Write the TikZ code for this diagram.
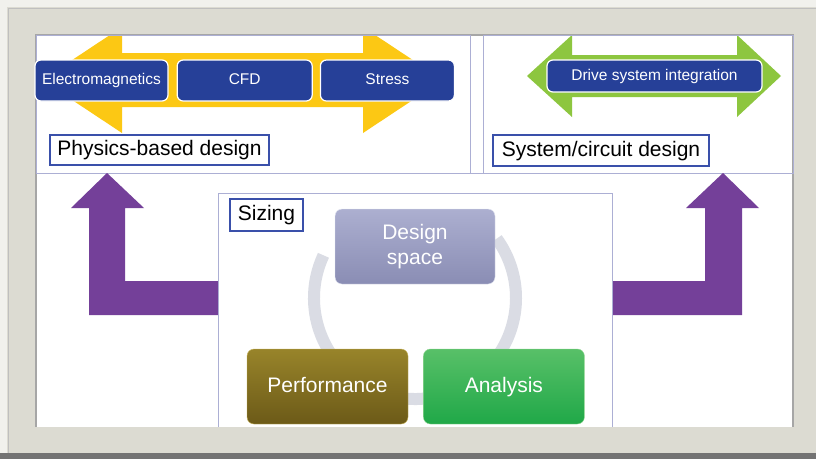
\documentclass[tikz,border=0pt]{standalone}
\usepackage{fontspec}
\setmainfont{Liberation Sans}
\usetikzlibrary{positioning}
\definecolor{framegray}{RGB}{220,219,210}
\definecolor{panelline}{RGB}{172,175,212}
\definecolor{boxblue}{RGB}{38,64,152}
\definecolor{labelblue}{RGB}{58,80,170}
\definecolor{arrowyellow}{RGB}{252,200,20}
\definecolor{arrowgreen}{RGB}{141,198,63}
\definecolor{arrowpurple}{RGB}{116,64,153}
\definecolor{ringgray}{RGB}{218,220,228}

\tikzset{
  toolbox/.style={draw=white, line width=1.2pt, fill=boxblue, rounded corners=6pt,
    text=white, inner sep=0pt, text height=11pt, text depth=3pt,
    font=\fontsize{15.5}{18}\selectfont},
  labelbox/.style={draw=labelblue, line width=1.2pt, fill=white, inner sep=0pt,
    text height=15pt, text depth=4pt, font=\fontsize{21}{25}\selectfont},
  cyclebox/.style={rounded corners=7pt, minimum width=161pt, minimum height=75pt,
    text=white, inner sep=0pt, align=center, font=\fontsize{21}{25}\selectfont},
  panel/.style={draw=panelline, line width=0.8pt}
}

\begin{document}
\begin{tikzpicture}[x=1pt,y=-1pt]
  \useasboundingbox (0,0) rectangle (816,459);
  \fill[framegray] (0,0) rectangle (816,459);
  \fill[white!60!framegray] (0,0) rectangle (816,7);
  \fill[white!60!framegray] (0,0) rectangle (7,459);
  \draw[black!25, line width=0.8pt] (8,459) -- (8,8) -- (816,8);
  \fill[black!55] (0,453) rectangle (816,459);
  \fill[white] (36,35) rectangle (793,427);
  \draw[black!35, line width=1.2pt] (36,427) -- (36,35) -- (793,35) -- (793,427);

  % top panels
  \begin{scope}
    \clip (36,35) rectangle (470,173);
    \fill[arrowyellow] (42,80) -- (122,27) -- (122,53) -- (363,53) -- (363,27) -- (443,80)
      -- (363,133) -- (363,107) -- (122,107) -- (122,133) -- cycle;
  \end{scope}
  \fill[arrowgreen] (527,76) -- (572,35) -- (572,55) -- (737,55) -- (737,35) -- (781,76)
    -- (737,117) -- (737,97) -- (572,97) -- (572,117) -- cycle;
  \draw[panel] (36,35) rectangle (470,173);
  \draw[panel] (483,35) rectangle (793,173);
  \draw[panel] (36,173) -- (793,173);

  \node[toolbox, minimum width=133pt, minimum height=41pt] (em) at (101.5,80.5) {Electromagnetics};
  \node[toolbox, minimum width=135pt, minimum height=41pt, right=8pt of em] (cfd) {CFD};
  \node[toolbox, minimum width=134pt, minimum height=41pt, right=7pt of cfd] (stress) {Stress};
  \node[toolbox, minimum width=215pt, minimum height=32pt] (drive) at (654.5,76) {Drive system integration};
  \node[labelbox, minimum width=219pt, minimum height=30pt] (physics) at (159.5,150) {Physics-based design};
  \node[labelbox, minimum width=216pt, minimum height=31pt] (system) at (601,150.5) {System/circuit design};

  % feedback arrows
  \fill[arrowpurple] (89,315) -- (89,208) -- (71,208) -- (107,173) -- (144,208) -- (125,208)
    -- (125,281) -- (218,281) -- (218,315) -- cycle;
  \fill[arrowpurple] (742,315) -- (742,208) -- (759,208) -- (723,173) -- (686,208) -- (705,208)
    -- (705,281) -- (612,281) -- (612,315) -- cycle;

  % sizing panel
  \draw[panel] (218,427) -- (218,193) -- (612,193) -- (612,427);
  \node[labelbox, minimum width=73pt, minimum height=32pt] (sizing) at (266.5,215) {Sizing};
  \draw[ringgray, line width=12pt] (415,298) ++(-155:101) arc[start angle=-155, end angle=-396, radius=101];
  \node[cyclebox, minimum width=160pt, draw=white!70!boxblue!40, top color={rgb,255:red,172;green,175;blue,208},
    bottom color={rgb,255:red,138;green,141;blue,180}] (space) at (415,246.5) {Design\\space};
  \node[cyclebox, text height=15pt, text depth=4pt, draw={rgb,255:red,200;green,180;blue,90},
    top color={rgb,255:red,152;green,132;blue,42},
    bottom color={rgb,255:red,108;green,90;blue,24}] (perf) at (327.5,386.5) {Performance};
  \node[cyclebox, text height=15pt, text depth=4pt, draw={rgb,255:red,150;green,215;blue,150},
    top color={rgb,255:red,88;green,192;blue,104},
    bottom color={rgb,255:red,32;green,168;blue,72}, right=15pt of perf] (analysis) {Analysis};
\end{tikzpicture}
\end{document}
